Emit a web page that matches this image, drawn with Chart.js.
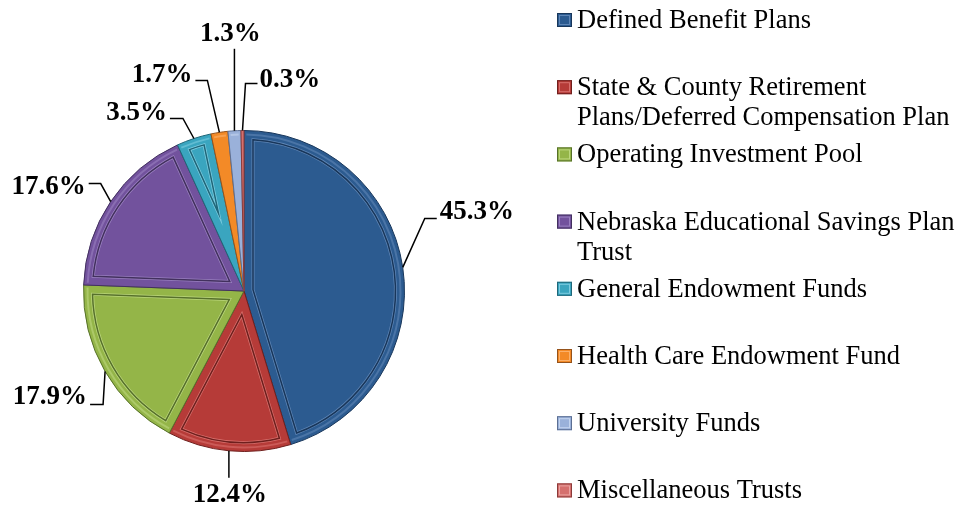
<!DOCTYPE html>
<html>
<head>
<meta charset="utf-8">
<script src="https://cdn.jsdelivr.net/npm/chart.js@4/dist/chart.umd.min.js"></script>
<style>
  html, body { margin: 0; padding: 0; background: #ffffff; }
  #wrap { width: 965px; height: 510px; }
</style>
</head>
<body>
<div id="wrap"><canvas id="pieChart" width="965" height="510"></canvas></div>
<script>
// data
const categories = [
  "Defined Benefit Plans",
  "State & County Retirement Plans/Deferred Compensation Plan",
  "Operating Investment Pool",
  "Nebraska Educational Savings Plan Trust",
  "General Endowment Funds",
  "Health Care Endowment Fund",
  "University Funds",
  "Miscellaneous Trusts"
];
const legendLines = [
  ["Defined Benefit Plans"],
  ["State & County Retirement", "Plans/Deferred Compensation Plan"],
  ["Operating Investment Pool"],
  ["Nebraska Educational Savings Plan", "Trust"],
  ["General Endowment Funds"],
  ["Health Care Endowment Fund"],
  ["University Funds"],
  ["Miscellaneous Trusts"]
];
const shares = [45.3, 12.4, 17.9, 17.6, 3.5, 1.7, 1.3, 0.3];

// styles
const fills = ["#2c5b90", "#b63b38", "#94b548", "#72529d", "#3aa5bf", "#f38a27", "#9ab1da", "#d5706e"];
const darks = ["#18365a", "#6e1f1d", "#56702a", "#42305e", "#1f6678", "#95521a", "#5c6f93", "#8a3a39"];
const lights = ["#5f86b6", "#d8706d", "#bcd77e", "#9a80c0", "#7ccbe0", "#fbb06a", "#c4d4ef", "#eaa3a1"];

// leader lines: [elbow dx, dy, end dx, dy, text dx, dy, align] relative to slice edge
const leaders = [
  [22, -49, 34, -49, 3, -6, "left"],
  [0, 27, 0, 27, 1, 17, "center"],
  [-2, 33, -15, 33, -3, -7, "right"],
  [-10, -18, -22, -18, -3, 3, "right"],
  [-11, -20, -24, -20, -3, -5, "right"],
  [-12, -52, -24, -52, -3, -5, "right"],
  [0, -82, 0, -82, -4, -15, "center"],
  [3, -47, 15, -47, 2, -3, "left"]
];

function insetPath(ctx, a, d) {
  const span = a.endAngle - a.startAngle;
  const R = a.outerRadius - d;
  const off = Math.asin(d / R);
  if (span - 2 * off < 0.05) return false;
  const apex = d / Math.sin(span / 2);
  const mid = (a.startAngle + a.endAngle) / 2;
  ctx.beginPath();
  ctx.moveTo(a.x + apex * Math.cos(mid), a.y + apex * Math.sin(mid));
  ctx.arc(a.x, a.y, R, a.startAngle + off, a.endAngle - off);
  ctx.closePath();
  return true;
}

const bevelPlugin = {
  id: "bevel",
  afterDatasetsDraw(chart) {
    const ctx = chart.ctx;
    chart.getDatasetMeta(0).data.forEach(function (a, i) {
      ctx.save();
      const span = a.endAngle - a.startAngle;
      if (span > 0.04) {
        // outer rim highlight
        ctx.beginPath();
        ctx.arc(a.x, a.y, a.outerRadius - 4, a.startAngle + 0.015, a.endAngle - 0.015);
        ctx.strokeStyle = lights[i];
        ctx.globalAlpha = 0.6;
        ctx.lineWidth = 2;
        ctx.stroke();
        ctx.globalAlpha = 1;
      }
      if (insetPath(ctx, a, 9)) {
        ctx.strokeStyle = lights[i];
        ctx.lineWidth = 3;
        ctx.stroke();
        ctx.strokeStyle = darks[i];
        ctx.lineWidth = 1.5;
        ctx.stroke();
      }
      ctx.restore();
    });
  }
};

const labelPlugin = {
  id: "leaderLabels",
  afterDraw(chart) {
    const ctx = chart.ctx;
    ctx.save();
    ctx.font = "bold 27px 'Liberation Serif', 'Times New Roman', serif";
    ctx.textBaseline = "middle";
    chart.getDatasetMeta(0).data.forEach(function (a, i) {
      const mid = (a.startAngle + a.endAngle) / 2;
      const ex = a.x + a.outerRadius * Math.cos(mid);
      const ey = a.y + a.outerRadius * Math.sin(mid);
      const L = leaders[i];
      ctx.beginPath();
      ctx.moveTo(ex, ey);
      ctx.lineTo(ex + L[0], ey + L[1]);
      ctx.lineTo(ex + L[2], ey + L[3]);
      ctx.strokeStyle = "#000000";
      ctx.lineWidth = 1.5;
      ctx.stroke();
      ctx.fillStyle = "#000000";
      ctx.textAlign = L[6];
      ctx.fillText(shares[i].toFixed(1) + "%", ex + L[2] + L[4], ey + L[3] + L[5]);
    });
    ctx.restore();
  }
};

const legendPlugin = {
  id: "sideLegend",
  afterDraw(chart) {
    const ctx = chart.ctx;
    ctx.save();
    ctx.font = "26.5px 'Liberation Serif', 'Times New Roman', serif";
    ctx.textBaseline = "alphabetic";
    ctx.textAlign = "left";
    legendLines.forEach(function (lines, i) {
      const top = 13 + i * 67.2;
      ctx.fillStyle = fills[i];
      ctx.fillRect(557, top, 15, 14);
      ctx.strokeStyle = darks[i];
      ctx.lineWidth = 1;
      ctx.strokeRect(557.5, top + 0.5, 14, 13);
      ctx.strokeStyle = lights[i];
      ctx.strokeRect(559.5, top + 2.5, 10, 9);
      ctx.fillStyle = "#000000";
      lines.forEach(function (t, k) {
        ctx.fillText(t, 577, top + 15 + k * 30);
      });
    });
    ctx.restore();
  }
};

new Chart(document.getElementById("pieChart").getContext("2d"), {
  type: "pie",
  data: {
    labels: categories,
    datasets: [{
      data: shares,
      backgroundColor: fills,
      borderColor: darks,
      borderWidth: 1
    }]
  },
  options: {
    responsive: false,
    animation: false,
    layout: { padding: { left: 83, right: 560, top: 130, bottom: 58 } },
    plugins: {
      legend: { display: false },
      tooltip: { enabled: false }
    }
  },
  plugins: [bevelPlugin, labelPlugin, legendPlugin]
});
</script>
</body>
</html>
